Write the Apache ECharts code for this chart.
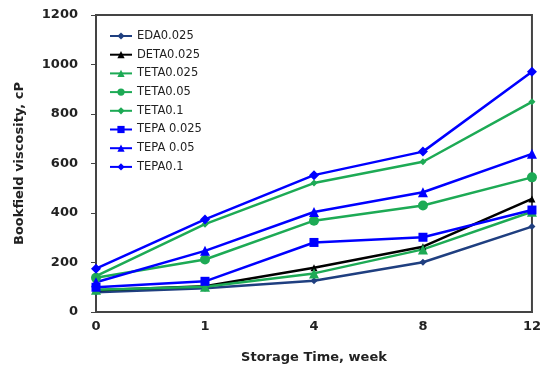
<!DOCTYPE html>
<html>
<head>
<meta charset="utf-8">
<script src="https://cdn.jsdelivr.net/npm/echarts@6/dist/echarts.min.js"></script>
<style>
  html, body { margin: 0; padding: 0; background: #fff; }
  #chart { width: 544px; height: 370px; }
</style>
</head>
<body>
<div id="chart"></div>
<script>
const weeks = ['0', '1', '4', '8', '12']
const eda0025 = [80, 96, 126, 201, 345]
const deta0025 = [88, 104, 179, 264, 457]
const teta0025 = [90, 102, 156, 253, 405]
const teta005 = [138, 212, 369, 430, 544]
const teta01 = [145, 355, 521, 607, 849]
const tepa0025 = [100, 124, 281, 302, 412]
const tepa005 = [120, 247, 404, 484, 639]
const tepa01 = [175, 374, 553, 648, 971]
const yTicks = [0, 200, 400, 600, 800, 1000, 1200]

const navy = '#1f3f80'
const green = '#1daa55'
const blue = '#0000ff'

function line(name, data, color, symbol, size) {
  return {
    name: name,
    type: 'line',
    data: data,
    symbol: symbol,
    symbolSize: size,
    lineStyle: { color: color, width: 2.5 },
    itemStyle: { color: color },
    z: 3
  }
}

const chart = echarts.init(document.getElementById('chart'))
const option = {
  animation: false,
  grid: {
    left: 96, right: 10, top: 15, bottom: 58,
    show: true, borderColor: '#444', borderWidth: 2, backgroundColor: 'transparent'
  },
  legend: {
    orient: 'vertical',
    left: 104,
    top: 24,
    itemWidth: 22,
    itemHeight: 9,
    itemGap: 4.7,
    textStyle: { fontFamily: 'DejaVu Sans', fontSize: 11.5, color: '#222', lineHeight: 14 },
    data: ['EDA0.025', 'DETA0.025', 'TETA0.025', 'TETA0.05', 'TETA0.1', 'TEPA 0.025', 'TEPA 0.05', 'TEPA0.1']
  },
  xAxis: {
    type: 'category',
    data: weeks,
    boundaryGap: false,
    name: 'Storage Time, week',
    nameLocation: 'middle',
    nameGap: 39,
    nameTextStyle: { fontFamily: 'DejaVu Sans', fontWeight: 'bold', fontSize: 13, color: '#222' },
    axisLine: { lineStyle: { color: '#444', width: 2 } },
    axisTick: { show: false },
    axisLabel: { fontFamily: 'DejaVu Sans', fontWeight: 'bold', fontSize: 13, color: '#222', margin: 8 },
    splitLine: { show: false }
  },
  yAxis: {
    type: 'value',
    min: 0,
    max: 1200,
    interval: 200,
    name: 'Bookfield viscosity, cP',
    nameLocation: 'middle',
    nameGap: 70,
    nameTextStyle: { fontFamily: 'DejaVu Sans', fontWeight: 'bold', fontSize: 13, color: '#222' },
    axisLine: { show: true, lineStyle: { color: '#444', width: 2 } },
    axisTick: { show: true, length: 5, lineStyle: { color: '#444' } },
    axisLabel: {
      fontFamily: 'DejaVu Sans', fontWeight: 'bold', fontSize: 13, color: '#222', margin: 18,
      formatter: function (v) { return yTicks.indexOf(v) >= 0 ? String(v) : '' }
    },
    splitLine: { show: false }
  },
  series: [
    line('EDA0.025', eda0025, navy, 'diamond', 7),
    line('DETA0.025', deta0025, '#000', 'triangle', 7),
    line('TETA0.025', teta0025, green, 'triangle', 10),
    line('TETA0.05', teta005, green, 'circle', 10),
    line('TETA0.1', teta01, green, 'diamond', 7),
    line('TEPA 0.025', tepa0025, blue, 'rect', 9),
    line('TEPA 0.05', tepa005, blue, 'triangle', 10),
    line('TEPA0.1', tepa01, blue, 'diamond', 10)
  ]
}
chart.setOption(option)
</script>
</body>
</html>
